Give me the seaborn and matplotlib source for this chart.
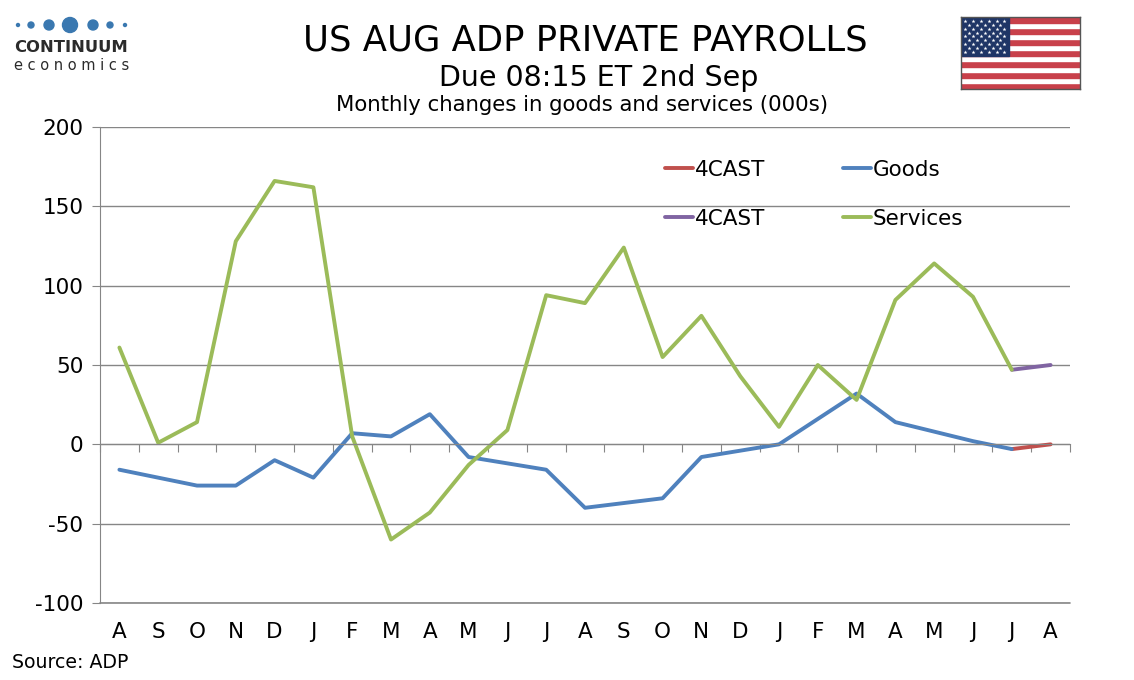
import numpy as np
import pandas as pd
import seaborn as sns
import matplotlib.pyplot as plt
from matplotlib.patches import Rectangle, Circle

months = ["A", "S", "O", "N", "D", "J", "F", "M", "A", "M", "J", "J", "A",
          "S", "O", "N", "D", "J", "F", "M", "A", "M", "J", "J", "A"]
goods = [-16, -21, -26, -26, -10, -21, 7, 5, 19, -8, -12, -16, -40,
         -37, -34, -8, -4, 0, 16, 32, 14, 8, 2, -3]
services = [61, 1, 14, 128, 166, 162, 5, -60, -43, -13, 9, 94, 89,
            124, 55, 81, 43, 11, 50, 28, 91, 114, 93, 47]
fc_goods = [-3, 0]
fc_services = [47, 50]

GREEN = "#9BBB59"
BLUE = "#4F81BD"
RED = "#C0504D"
PURPLE = "#8064A2"
GRID = "#868686"

sns.set_style("white")
plt.rcParams["font.family"] = ["DejaVu Sans"]
plt.rcParams["axes.unicode_minus"] = False
plt.rcParams["text.color"] = "black"
plt.rcParams["xtick.color"] = "black"
plt.rcParams["ytick.color"] = "black"

df = pd.DataFrame({"x": np.arange(len(goods)), "Goods": goods, "Services": services})
fc = pd.DataFrame({"x": [len(goods) - 1, len(goods)], "g": fc_goods, "s": fc_services})

fig = plt.figure(figsize=(11.34, 6.8), dpi=100)
ax = fig.add_axes([100 / 1134, 77 / 680, 970 / 1134, 476 / 680])

sns.lineplot(data=fc, x="x", y="g", color=RED, lw=2.8, ax=ax, label="4CAST")
sns.lineplot(data=fc, x="x", y="s", color=PURPLE, lw=2.8, ax=ax, label="4CAST")
sns.lineplot(data=df, x="x", y="Goods", color=BLUE, lw=2.8, ax=ax, label="Goods")
sns.lineplot(data=df, x="x", y="Services", color=GREEN, lw=2.8, ax=ax, label="Services")

ax.set_xlim(-0.5, 24.5)
ax.set_ylim(-100, 200)
ax.set_yticks(range(-100, 201, 50))
ax.yaxis.grid(True, color=GRID, lw=1)
ax.set_axisbelow(True)
ax.set_xlabel("")
ax.set_ylabel("")
for s in ["top", "right"]:
    ax.spines[s].set_visible(False)
ax.spines["left"].set_color(GRID)
ax.spines["bottom"].set_color(GRID)
ax.spines["bottom"].set_position(("data", 0))
ax.axhline(-100, color=GRID, lw=1.2, zorder=0, clip_on=False)
ax.set_xticks(np.arange(-0.5, 25, 1))
ax.set_xticklabels([])
ax.tick_params(axis="x", bottom=True, direction="out", length=6, color=GRID)
ax.tick_params(axis="y", left=True, direction="out", length=6, color=GRID,
               labelsize=15.5, pad=6)

sec = ax.secondary_xaxis(location=0)
sec.set_xticks(range(len(months)))
sec.set_xticklabels(months)
sec.tick_params(length=0, labelsize=15.5, pad=14)
sec.spines["bottom"].set_visible(False)

h, l = ax.get_legend_handles_labels()
ax.legend(h, l, ncol=2, loc="upper left", bbox_to_anchor=(0.562, 0.972),
          frameon=False, fontsize=15.5, handlelength=1.3, handletextpad=0.1,
          labelspacing=1.36, columnspacing=3.6)

fig.text(0.516, 0.94, "US AUG ADP PRIVATE PAYROLLS", ha="center", va="center", fontsize=25.5)
fig.text(0.528, 0.885, "Due 08:15 ET 2nd Sep", ha="center", va="center", fontsize=20.5)
fig.text(0.513, 0.846, "Monthly changes in goods and services (000s)", ha="center", va="center", fontsize=15.3)
fig.text(12 / 1134, 1 - 663 / 680, "Source: ADP", ha="left", va="center", fontsize=13.6)

# logo
for cx, r in zip([18, 31, 49, 70, 93, 110, 125], [1.5, 3, 5, 7.5, 5, 3, 1.5]):
    fig.add_artist(Circle((cx, 680 - 25), r, transform=None, color="#3A78B0"))
fig.text(14 / 1134, 1 - 47 / 680, "CONTINUUM", fontsize=11.8, fontweight="bold",
         color="#2b2b2b", va="center", ha="left")
fig.text(14 / 1134, 1 - 65 / 680, "e c o n o m i c s", fontsize=10.5, color="#2b2b2b",
         va="center", ha="left")

# flag
fax = fig.add_axes([961 / 1134, 1 - 89 / 680, 119 / 1134, 72 / 680])
fax.set_xlim(0, 1.9)
fax.set_ylim(0, 1)
for i in range(13):
    fax.add_patch(Rectangle((0, i / 13), 1.9, 1 / 13, color="#C8404A" if i % 2 == 0 else "white"))
fax.add_patch(Rectangle((0, 6 / 13), 0.76, 7 / 13, color="#1F3566"))
sx, sy = [], []
for row in range(9):
    n = 6 if row % 2 == 0 else 5
    off = 0.063 if row % 2 == 0 else 0.126
    for k in range(n):
        sx.append(off + k * 0.126)
        sy.append(1 - (row + 1) * (7 / 13) / 10)
fax.scatter(sx, sy, marker="*", s=9, color="white", linewidths=0)
fax.set_xticks([])
fax.set_yticks([])
for s in fax.spines.values():
    s.set_color("#555555")
    s.set_linewidth(1)

fig.savefig("out.png", dpi=100)
